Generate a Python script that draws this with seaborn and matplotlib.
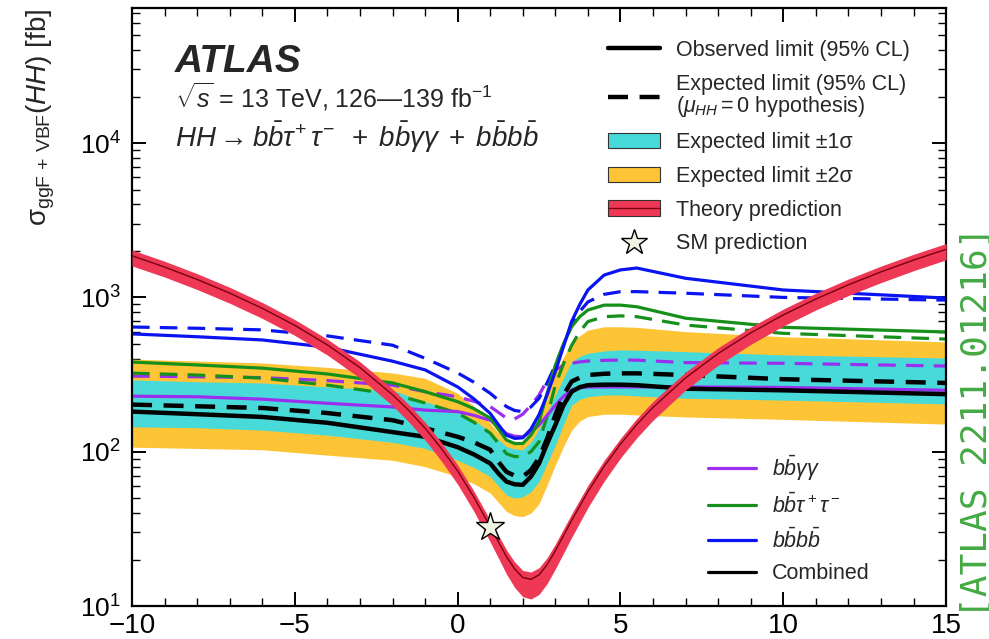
import numpy as np
import pandas as pd
import matplotlib
matplotlib.use("Agg")
import matplotlib.pyplot as plt
import seaborn as sns
from matplotlib.lines import Line2D
from matplotlib.patches import Patch
from matplotlib.legend_handler import HandlerTuple
from matplotlib.ticker import MultipleLocator, LogLocator, NullFormatter

# ---------------- data ----------------
kappa = [-10, -8, -6, -4, -2, -1, 0, 0.5, 1, 1.25, 1.5, 1.75, 2, 2.25, 2.5, 2.75, 3, 3.25, 3.5, 3.75,
         4, 4.5, 5, 5.5, 7, 10, 15]

comb_obs = [182, 175, 168, 154, 134, 125, 107, 96, 84, 72.5, 64, 61.5, 61, 69, 84, 113, 149, 200, 245, 262,
            270, 272, 272, 270, 256, 250, 236]
comb_exp = [202, 197, 192, 178, 160, 142, 125, 115, 103, 86, 74, 70, 69, 76, 91, 122, 173, 233, 285, 302,
            314, 320, 322, 322, 314, 295, 279]
band1_up = [292, 284, 279, 263, 250, 211, 182, 160, 135, 120, 108, 104, 103, 115, 141, 180, 233, 300, 383, 415,
            434, 450, 457, 455, 445, 424, 405]
band1_dn = [145, 143, 138, 128, 115, 105, 88, 79, 69, 60, 52.5, 50, 51, 55, 64, 84, 110, 150, 200, 218,
            227, 233, 233, 230, 222, 216, 204]
band2_up = [398, 387, 376, 352, 324, 299, 239, 197, 153, 133, 116, 112, 113, 130, 165, 230, 322, 410, 505, 565,
            614, 645, 645, 640, 600, 556, 515]
band2_dn = [107, 105, 103, 95, 88, 80, 69, 62, 54, 47, 41, 38.5, 38, 40, 46, 61, 82, 108, 138, 158,
            169, 175, 175, 173, 168, 162, 151]

bbbb_obs = [580, 556, 530, 475, 386, 339, 263, 220, 177, 150, 128, 122, 123, 140, 174, 235, 330, 480, 697, 900,
            1117, 1396, 1507, 1550, 1330, 1117, 990]
bbbb_exp = [643, 631, 616, 563, 490, 403, 324, 282, 239, 216, 196, 185, 182, 195, 222, 280, 363, 490, 662, 810,
            935, 1047, 1089, 1090, 1064, 1000, 960]
bbtt_obs = [381, 365, 348, 319, 279, 245, 211, 190, 165, 140, 119, 113, 113, 128, 157, 240, 363, 500, 645, 750,
            828, 891, 891, 870, 733, 640, 597]
bbtt_exp = [323, 314, 300, 270, 236, 207, 178, 155, 132, 113, 97, 93, 93, 100, 116, 170, 270, 370, 489, 600,
            697, 750, 759, 750, 662, 585, 537]
bbyy_obs = [229, 227, 219, 206, 195, 186, 182, 172, 160, 145, 131, 126, 125, 134, 149, 172, 200, 228, 251, 259,
            263, 263, 263, 263, 263, 261, 250]
bbyy_exp = [309, 306, 302, 289, 270, 245, 227, 212, 196, 180, 165, 163, 175, 200, 233, 290, 339, 362, 374, 382,
            387, 391, 393, 392, 378, 374, 359]

theory_k = [-10, -9, -8, -7, -6, -5, -4, -3, -2, -1.5, -1, -0.5, 0, 0.5, 1, 1.25, 1.5, 1.75, 2, 2.25,
            2.5, 2.75, 3, 3.5, 4, 4.5, 5, 5.5, 6, 7, 8, 9, 10, 11, 12, 13, 14, 15]
theory_xs = [1863, 1573, 1307, 1066, 850, 659, 492, 351, 234, 185, 142, 105, 75.0, 50.7, 32.7, 26.1, 20.9, 17.4, 15.3, 14.9,
             15.9, 18.6, 22.8, 35.8, 55.1, 80.5, 112, 150, 194, 301, 433, 589, 770, 976, 1207, 1463, 1744, 2049]
theory_up = [2030, 1715, 1425, 1162, 927, 718, 536, 383, 255, 202, 155, 115, 82, 55.5, 36, 28.8, 23.1, 19.3, 17.0, 16.6,
             17.7, 20.6, 25.2, 39.5, 60.5, 88, 122, 164, 212, 328, 472, 642, 840, 1064, 1316, 1595, 1901, 2234]
theory_dn = [1600, 1355, 1125, 917, 731, 567, 423, 300, 199, 156, 119, 87, 61.5, 41, 26, 20.5, 16.1, 13.2, 11.5, 11.1,
             11.9, 14.0, 17.4, 27.8, 43.5, 64.5, 91, 123, 160, 251, 363, 496, 652, 829, 1028, 1247, 1489, 1752]

sm_kappa = [1.0]
sm_xs = [32.7]

x_ticks = [-10, -5, 0, 5, 10, 15]

# ---------------- style ----------------
sns.set_theme(style="ticks")
plt.rcParams["font.family"] = ["Liberation Sans", "DejaVu Sans"]
plt.rcParams["mathtext.fontset"] = "custom"
plt.rcParams["mathtext.rm"] = "Liberation Sans"
plt.rcParams["mathtext.it"] = "Liberation Sans:italic"
plt.rcParams["mathtext.bf"] = "Liberation Sans:bold"
plt.rcParams["mathtext.sf"] = "Liberation Sans"

C_CYAN = "#48D9D9"
C_YEL = "#FDC535"
C_RED = "#EE3856"
C_PURP = "#9B2FEF"
C_GREEN = "#16901A"
C_BLUE = "#0A14F0"

fig = plt.figure(figsize=(9.89, 6.39), dpi=100)
ax = fig.add_axes([0.1335, 0.0516, 0.8231, 0.9358])

# bands
ax.fill_between(kappa, band2_dn, band2_up, color=C_YEL, lw=0, zorder=1)
ax.fill_between(kappa, band1_dn, band1_up, color=C_CYAN, lw=0, zorder=1.1)

dash_c = (0, (5.5, 3.2))
dash_k = (0, (4.5, 2.6))
series = [
    (bbyy_exp, C_PURP, 2.3, dash_c),
    (bbtt_exp, C_GREEN, 2.3, dash_c),
    (bbbb_exp, C_BLUE, 2.3, dash_c),
    (bbyy_obs, C_PURP, 2.3, "-"),
    (bbtt_obs, C_GREEN, 2.3, "-"),
    (bbbb_obs, C_BLUE, 2.3, "-"),
    (comb_exp, "black", 3.2, dash_k),
    (comb_obs, "black", 3.2, "-"),
]
for yv, col, lw, ls in series:
    sns.lineplot(x=kappa, y=yv, ax=ax, color=col, lw=lw, linestyle=ls,
                 sort=False, estimator=None, legend=False, zorder=2)

# theory
ax.fill_between(theory_k, theory_dn, theory_up, color=C_RED, lw=0, zorder=3)
sns.lineplot(x=theory_k, y=theory_xs, ax=ax, color="#7a0010", lw=1.0,
             sort=False, estimator=None, legend=False, zorder=3.1)

# SM star
ax.plot(sm_kappa, sm_xs, marker="*", ms=21, mfc="#EEF3E2", mec="black", mew=1.0,
        ls="none", zorder=5)

ax.set_yscale("log")
ax.set_xlim(-10, 15)
ax.set_ylim(10, 7.5e4)
ax.xaxis.set_major_locator(MultipleLocator(5))
ax.xaxis.set_minor_locator(MultipleLocator(1))
ax.set_xticks(x_ticks)
ax.yaxis.set_major_locator(LogLocator(base=10, numticks=10))
ax.yaxis.set_minor_locator(LogLocator(base=10, subs=np.arange(2, 10), numticks=20))
ax.yaxis.set_minor_formatter(NullFormatter())
ax.tick_params(which="both", direction="in", top=True, right=True, labelsize=19, colors="black")
ax.tick_params(axis="x", which="major", labelsize=20)
ax.tick_params(which="major", length=10, width=1.4, pad=5)
ax.tick_params(which="minor", length=5.5, width=1.0)
ax.tick_params(axis="y", which="major", pad=8)
for s in ax.spines.values():
    s.set_linewidth(1.6)
    s.set_color("black")

ax.set_ylabel(r"σ$_{\mathrm{ggF\,+\,VBF}}$($HH$) [fb]", fontsize=20, loc="top", labelpad=16)

# texts
ax.text(0.053, 0.893, "ATLAS", transform=ax.transAxes, fontsize=28,
        fontweight="bold", fontstyle="italic", va="baseline")
ax.text(0.053, 0.833, r"$\sqrt{s}$ = 13 TeV, 126—139 fb$^{-1}$", transform=ax.transAxes,
        fontsize=18, va="baseline")
ax.text(0.053, 0.768,
        r"$HH \rightarrow b\bar{b}\tau^{+}\,\tau^{-}\;\;+\;b\bar{b}\gamma\gamma\;+\;b\bar{b}b\bar{b}$",
        transform=ax.transAxes, fontsize=20, va="baseline")

# legend 1
h_obs = Line2D([], [], color="black", lw=3.2)
h_exp = Line2D([], [], color="black", lw=3.2, ls=dash_k)
h_1s = Patch(facecolor=C_CYAN, edgecolor="#333333", lw=0.8)
h_2s = Patch(facecolor=C_YEL, edgecolor="#333333", lw=0.8)
h_th = (Patch(facecolor=C_RED, edgecolor="#333333", lw=0.8), Line2D([], [], color="#7a0010", lw=1.0))
h_sm = Line2D([], [], marker="*", ms=19, mfc="#EEF3E2", mec="black", mew=1.0, ls="none")
leg1 = ax.legend([h_obs, h_exp, h_1s, h_2s, h_th, h_sm],
                 ["Observed limit (95% CL)", "Expected limit (95% CL)\n" + r"($\mu_{HH} = 0$ hypothesis)",
                  "Expected limit ±1σ", "Expected limit ±2σ",
                  "Theory prediction", "SM prediction"],
                 handler_map={tuple: HandlerTuple(ndivide=1)},
                 loc="upper left", bbox_to_anchor=(0.585, 0.947), frameon=False,
                 fontsize=15.5, handlelength=2.4, handletextpad=0.75, labelspacing=0.6,
                 borderpad=0, borderaxespad=0)
leg1.get_texts()[1].set_linespacing(0.95)
ax.add_artist(leg1)

h_p = Line2D([], [], color=C_PURP, lw=2.3)
h_g = Line2D([], [], color=C_GREEN, lw=2.3)
h_b = Line2D([], [], color=C_BLUE, lw=2.3)
h_k = Line2D([], [], color="black", lw=2.3)
leg2 = ax.legend([h_p, h_g, h_b, h_k],
                 [r"$b\bar{b}\gamma\gamma$", r"$b\bar{b}\tau^+\tau^-$", r"$b\bar{b}b\bar{b}$", "Combined"],
                 loc="upper left", bbox_to_anchor=(0.708, 0.255), frameon=False,
                 fontsize=15.5, handlelength=2.2, handletextpad=0.75, labelspacing=0.5,
                 borderpad=0, borderaxespad=0)

# side label
fig.text(977 / 989, (639 - 618) / 639, "[ATLAS 2211.01216]", rotation=90,
         color="#44AA44", fontsize=26, family="DejaVu Sans Mono", va="bottom", ha="center")

fig.savefig("out.png", dpi=100)
